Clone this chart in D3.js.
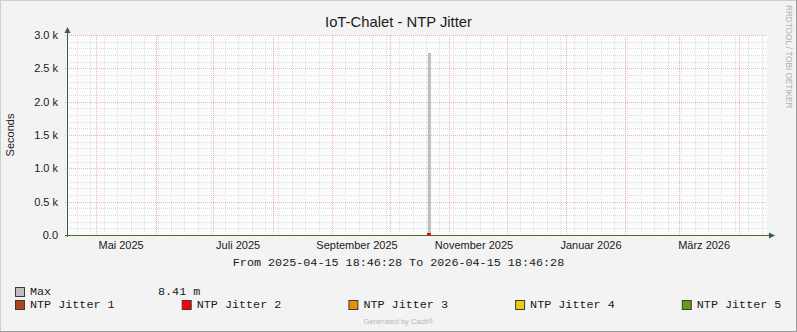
<!DOCTYPE html>
<html>
<head>
<meta charset="utf-8">
<script src="https://cdn.jsdelivr.net/npm/d3@7"></script>
<style>
  html, body { margin: 0; padding: 0; background: #f3f3f3; }
  svg { display: block; }
</style>
</head>
<body>
<svg id="chart"></svg>
<script>
// Zeitraum und Daten
const startZeit = "2025-04-15T18:46:28";
const endZeit = "2026-04-15T18:46:28";
const probenZeiten = ["2025-04-15T18:46:28", "2025-10-20T12:00:00", "2025-10-21T00:00:00", "2025-10-22T12:00:00", "2026-04-15T18:46:28"];
const maxWerte = [0.008, 0.008, 2730, 0.008, 0.008];
const jitter1Werte = [0.003, 0.003, 0.003, 0.003, 0.003];
const jitter2Werte = [0.002, 30, 30, 0.002, 0.002];
const jitter3Werte = [0.002, 0.002, 0.002, 0.002, 0.002];
const jitter4Werte = [0.002, 0.002, 0.002, 0.002, 0.002];
const jitter5Werte = [0.001, 0.001, 0.001, 0.001, 0.001];
const serienNamen = ["NTP Jitter 1", "NTP Jitter 2", "NTP Jitter 3", "NTP Jitter 4", "NTP Jitter 5"];
const serienFarben = ["#b5421c", "#ff0000", "#ea8f00", "#f0cd00", "#6a9a10"];
const yTicks = [0, 500, 1000, 1500, 2000, 2500, 3000];
const xLabelMonate = ["2025-05-01", "2025-07-01", "2025-09-01", "2025-11-01", "2026-01-01", "2026-03-01"];
const xLabelTexte = ["Mai 2025", "Juli 2025", "September 2025", "November 2025", "Januar 2026", "März 2026"];
const maxLegende = "8.41 m";

const breite = 797, hoehe = 332;
const links = 67, rechts = 767, oben = 35, unten = 235;

const svg = d3.select("#chart").attr("width", breite).attr("height", hoehe);

// Hintergrund mit Rahmen
svg.append("rect").attr("width", breite).attr("height", hoehe).attr("fill", "#f3f3f3");
svg.append("line").attr("x1", 0).attr("x2", breite).attr("y1", 0.5).attr("y2", 0.5).attr("stroke", "#cfcfcf");
svg.append("line").attr("x1", 0.5).attr("x2", 0.5).attr("y1", 0).attr("y2", hoehe).attr("stroke", "#cfcfcf");
svg.append("line").attr("x1", 0).attr("x2", breite).attr("y1", hoehe - 0.5).attr("y2", hoehe - 0.5).attr("stroke", "#999");
svg.append("line").attr("x1", breite - 0.5).attr("x2", breite - 0.5).attr("y1", 0).attr("y2", hoehe).attr("stroke", "#999");

svg.append("rect").attr("x", links).attr("y", oben).attr("width", rechts - links).attr("height", unten - oben).attr("fill", "#fcfcfc");

const parse = s => new Date(s);
const fnX = d3.scaleTime().domain([parse(startZeit), parse(endZeit)]).range([links, rechts]);
const fnY = d3.scaleLinear().domain([0, 3000]).range([unten, oben]);

const gitter = svg.append("g");

// Nebengitter: wöchentlich (Montag) und alle 100
const wochen = d3.timeMonday.range(fnX.domain()[0], fnX.domain()[1]);
gitter.selectAll(".wocheLinie").data(wochen).enter().append("line")
  .attr("x1", d => Math.round(fnX(d)) + 0.5).attr("x2", d => Math.round(fnX(d)) + 0.5)
  .attr("y1", oben).attr("y2", unten)
  .attr("stroke", "#dedede").attr("stroke-dasharray", "1,1");
const feinY = d3.range(0, 3001, 100).filter(v => v % 500 !== 0);
gitter.selectAll(".feinY").data(feinY).enter().append("line")
  .attr("x1", links).attr("x2", rechts)
  .attr("y1", d => Math.round(fnY(d)) + 0.5).attr("y2", d => Math.round(fnY(d)) + 0.5)
  .attr("stroke", "#dedede").attr("stroke-dasharray", "1,1");

// Hauptgitter: Monatsanfang und alle 500
const monate = d3.timeMonth.range(fnX.domain()[0], fnX.domain()[1]);
gitter.selectAll(".monatLinie").data(monate).enter().append("line")
  .attr("x1", d => Math.round(fnX(d)) + 0.5).attr("x2", d => Math.round(fnX(d)) + 0.5)
  .attr("y1", oben).attr("y2", unten + 2)
  .attr("stroke", "#f2b0b0").attr("stroke-dasharray", "1,1");
gitter.selectAll(".grobY").data(yTicks.filter(v => v > 0)).enter().append("line")
  .attr("x1", links - 2).attr("x2", rechts)
  .attr("y1", d => Math.round(fnY(d)) + 0.5).attr("y2", d => Math.round(fnY(d)) + 0.5)
  .attr("stroke", "#f2b0b0").attr("stroke-dasharray", "1,1");

// Serien
const zeiten = probenZeiten.map(parse);
const flaeche = d3.area().curve(d3.curveStepAfter)
  .x((d, i) => fnX(zeiten[i])).y0(fnY(0)).y1(d => fnY(d));

svg.append("path").datum(maxWerte).attr("d", flaeche).attr("fill", "#bdbdbd");

const alleJitter = [jitter1Werte, jitter2Werte, jitter3Werte, jitter4Werte, jitter5Werte];
svg.selectAll(".jitter").data(alleJitter).enter().append("path")
  .attr("d", flaeche).attr("fill", (d, i) => serienFarben[i]);

// Achsen
const achsenFarbe = "#3a5a56";
svg.append("line").attr("x1", links + 0.5).attr("x2", links + 0.5).attr("y1", unten + 2).attr("y2", oben - 6)
  .attr("stroke", achsenFarbe);
svg.append("path").attr("d", `M${links - 2.5},${oben - 2} L${links + 0.5},${oben - 8} L${links + 3.5},${oben - 2} Z`)
  .attr("fill", achsenFarbe);
svg.append("line").attr("x1", links - 2).attr("x2", rechts + 5).attr("y1", unten + 0.5).attr("y2", unten + 0.5)
  .attr("stroke", achsenFarbe);
svg.append("path").attr("d", `M${rechts + 2},${unten - 2.5} L${rechts + 8},${unten + 0.5} L${rechts + 2},${unten + 3.5} Z`)
  .attr("fill", achsenFarbe);
// Linie der letzten Serie liegt auf der Nulllinie
const linie = d3.line().curve(d3.curveStepAfter).x((d, i) => fnX(zeiten[i])).y(d => Math.round(fnY(d)) + 0.5);
svg.append("path").datum(jitter5Werte).attr("d", linie).attr("fill", "none")
  .attr("stroke", "#4f6b22").attr("stroke-width", 1);

// Beschriftungen
const sans = "'Liberation Sans', Arial, sans-serif";
const mono = "'Courier New', 'Liberation Mono', monospace";

svg.selectAll(".yLabel").data(yTicks).enter().append("text")
  .attr("x", 58).attr("y", d => fnY(d) + 4)
  .attr("text-anchor", "end").attr("font-family", sans).attr("font-size", 11).attr("fill", "#1a1a1a")
  .text(d => d === 0 ? "0.0" : d3.format(".1f")(d / 1000) + " k");

svg.selectAll(".xLabel").data(xLabelMonate).enter().append("text")
  .attr("x", d => fnX(d3.timeDay.offset(parse(d + "T00:00:00"), 13)))
  .attr("y", 249)
  .attr("text-anchor", "middle").attr("font-family", sans).attr("font-size", 11).attr("fill", "#1a1a1a")
  .text((d, i) => xLabelTexte[i]);

svg.append("text").attr("x", breite / 2).attr("y", 27)
  .attr("text-anchor", "middle").attr("font-family", sans).attr("font-size", 14.8).attr("fill", "#1a1a1a")
  .text("IoT-Chalet - NTP Jitter");

svg.append("text").attr("transform", "translate(14,135) rotate(-90)")
  .attr("text-anchor", "middle").attr("font-family", sans).attr("font-size", 11).attr("fill", "#1a1a1a")
  .text("Seconds");

svg.append("text").attr("transform", "translate(786,5) rotate(90)")
  .attr("text-anchor", "start").attr("font-family", sans).attr("font-size", 8.2).attr("fill", "#b0b0b0")
  .text("RRDTOOL / TOBI OETIKER");

svg.append("text").attr("x", breite / 2).attr("y", 266)
  .attr("text-anchor", "middle").attr("font-family", mono).attr("font-size", 11.75).attr("fill", "#1a1a1a")
  .text("From 2025-04-15 18:46:28 To 2026-04-15 18:46:28");

// Legende
const legende = svg.append("g");
legende.append("rect").attr("x", 15.5).attr("y", 287.5).attr("width", 9).attr("height", 9)
  .attr("fill", "#bdbdbd").attr("stroke", "#2f3f3f");
legende.append("text").attr("x", 30).attr("y", 295).attr("font-family", mono).attr("font-size", 11.75)
  .attr("fill", "#1a1a1a").text("Max");
legende.append("text").attr("x", 158).attr("y", 295).attr("font-family", mono).attr("font-size", 11.75)
  .attr("fill", "#1a1a1a").text(maxLegende);

legende.selectAll(".box").data(serienNamen).enter().append("rect")
  .attr("x", (d, i) => 15.5 + i * 166.7).attr("y", 300.5).attr("width", 9).attr("height", 9)
  .attr("fill", (d, i) => serienFarben[i]).attr("stroke", "#2f3f3f");
legende.selectAll(".name").data(serienNamen).enter().append("text")
  .attr("x", (d, i) => 30 + i * 166.7).attr("y", 308).attr("font-family", mono).attr("font-size", 11.75)
  .attr("fill", "#1a1a1a").text(d => d);

svg.append("text").attr("x", breite / 2).attr("y", 324)
  .attr("text-anchor", "middle").attr("font-family", sans).attr("font-size", 7.5).attr("fill", "#b8b8b8")
  .text("Generated by Cacti®");
</script>
</body>
</html>
